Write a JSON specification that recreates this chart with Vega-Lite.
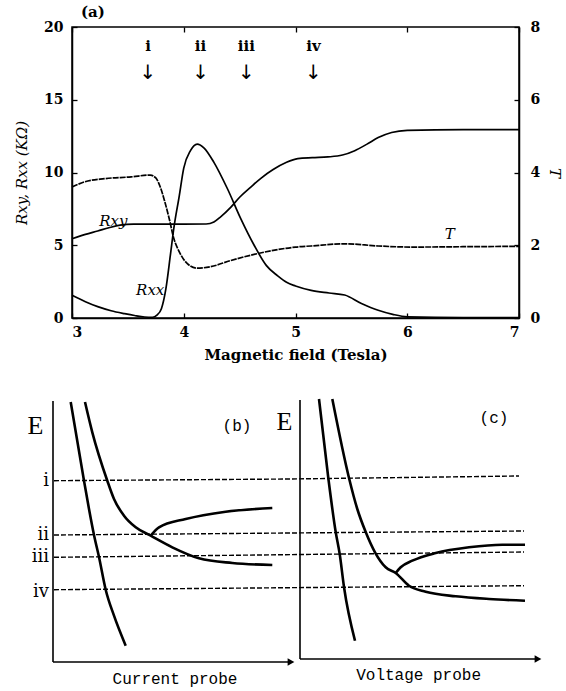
{
  "$schema": "https://vega.github.io/schema/vega-lite/v6.json",
  "background": "white",
  "padding": {"left": 13, "top": 4, "right": 3, "bottom": 5},
  "spacing": 30,
  "config": {
    "font": "DejaVu Serif",
    "view": {"stroke": "black", "strokeWidth": 1.5},
    "axis": {
      "grid": false,
      "labelFont": "DejaVu Serif",
      "labelFontWeight": "bold",
      "labelFontSize": 14,
      "labelColor": "black",
      "tickColor": "black",
      "domainColor": "black",
      "domainWidth": 1.5,
      "tickWidth": 1.3,
      "titleColor": "black",
      "titleFont": "DejaVu Serif"
    }
  },
  "datasets": {
    "resist": [
      {"B": 3.0, "R": 5.45, "series": "Rxy"},
      {"B": 3.12, "R": 5.75, "series": "Rxy"},
      {"B": 3.23, "R": 5.98, "series": "Rxy"},
      {"B": 3.33, "R": 6.2, "series": "Rxy"},
      {"B": 3.43, "R": 6.38, "series": "Rxy"},
      {"B": 3.55, "R": 6.45, "series": "Rxy"},
      {"B": 3.8, "R": 6.45, "series": "Rxy"},
      {"B": 4.0, "R": 6.45, "series": "Rxy"},
      {"B": 4.2, "R": 6.46, "series": "Rxy"},
      {"B": 4.27, "R": 6.6, "series": "Rxy"},
      {"B": 4.33, "R": 6.95, "series": "Rxy"},
      {"B": 4.42, "R": 7.6, "series": "Rxy"},
      {"B": 4.5, "R": 8.3, "series": "Rxy"},
      {"B": 4.6, "R": 9.0, "series": "Rxy"},
      {"B": 4.69, "R": 9.6, "series": "Rxy"},
      {"B": 4.8, "R": 10.2, "series": "Rxy"},
      {"B": 4.92, "R": 10.7, "series": "Rxy"},
      {"B": 5.02, "R": 10.95, "series": "Rxy"},
      {"B": 5.15, "R": 11.02, "series": "Rxy"},
      {"B": 5.29, "R": 11.07, "series": "Rxy"},
      {"B": 5.42, "R": 11.2, "series": "Rxy"},
      {"B": 5.53, "R": 11.5, "series": "Rxy"},
      {"B": 5.64, "R": 11.95, "series": "Rxy"},
      {"B": 5.74, "R": 12.4, "series": "Rxy"},
      {"B": 5.86, "R": 12.75, "series": "Rxy"},
      {"B": 6.0, "R": 12.9, "series": "Rxy"},
      {"B": 6.5, "R": 12.95, "series": "Rxy"},
      {"B": 7.0, "R": 12.95, "series": "Rxy"},
      {"B": 3.0, "R": 1.56, "series": "Rxx"},
      {"B": 3.12, "R": 1.12, "series": "Rxx"},
      {"B": 3.23, "R": 0.78, "series": "Rxx"},
      {"B": 3.35, "R": 0.5, "series": "Rxx"},
      {"B": 3.47, "R": 0.3, "series": "Rxx"},
      {"B": 3.56, "R": 0.17, "series": "Rxx"},
      {"B": 3.65, "R": 0.07, "series": "Rxx"},
      {"B": 3.72, "R": 0.05, "series": "Rxx"},
      {"B": 3.76, "R": 0.2, "series": "Rxx"},
      {"B": 3.8, "R": 0.64, "series": "Rxx"},
      {"B": 3.84, "R": 2.0, "series": "Rxx"},
      {"B": 3.88, "R": 4.3, "series": "Rxx"},
      {"B": 3.91, "R": 6.1, "series": "Rxx"},
      {"B": 3.96, "R": 8.4, "series": "Rxx"},
      {"B": 4.0, "R": 10.3, "series": "Rxx"},
      {"B": 4.06, "R": 11.5, "series": "Rxx"},
      {"B": 4.12, "R": 11.95, "series": "Rxx"},
      {"B": 4.18, "R": 11.7, "series": "Rxx"},
      {"B": 4.27, "R": 10.7, "series": "Rxx"},
      {"B": 4.39, "R": 8.9, "series": "Rxx"},
      {"B": 4.51, "R": 6.83, "series": "Rxx"},
      {"B": 4.63, "R": 5.0, "series": "Rxx"},
      {"B": 4.74, "R": 3.6, "series": "Rxx"},
      {"B": 4.84, "R": 2.9, "series": "Rxx"},
      {"B": 4.92, "R": 2.45, "series": "Rxx"},
      {"B": 5.0, "R": 2.2, "series": "Rxx"},
      {"B": 5.14, "R": 1.9, "series": "Rxx"},
      {"B": 5.3, "R": 1.72, "series": "Rxx"},
      {"B": 5.44, "R": 1.58, "series": "Rxx"},
      {"B": 5.59, "R": 1.0, "series": "Rxx"},
      {"B": 5.74, "R": 0.53, "series": "Rxx"},
      {"B": 5.87, "R": 0.25, "series": "Rxx"},
      {"B": 6.0, "R": 0.08, "series": "Rxx"},
      {"B": 6.5, "R": 0.03, "series": "Rxx"},
      {"B": 7.0, "R": 0.03, "series": "Rxx"}
    ],
    "trans": [
      {"B": 3.0, "T": 3.6},
      {"B": 3.11, "T": 3.74},
      {"B": 3.29, "T": 3.83},
      {"B": 3.53, "T": 3.88},
      {"B": 3.7, "T": 3.93},
      {"B": 3.75, "T": 3.85},
      {"B": 3.79, "T": 3.6},
      {"B": 3.83, "T": 3.2},
      {"B": 3.87, "T": 2.73},
      {"B": 3.91, "T": 2.2},
      {"B": 3.96, "T": 1.82},
      {"B": 4.03, "T": 1.5},
      {"B": 4.12, "T": 1.37},
      {"B": 4.24, "T": 1.41},
      {"B": 4.42, "T": 1.58},
      {"B": 4.66, "T": 1.77},
      {"B": 4.84, "T": 1.88},
      {"B": 5.0, "T": 1.95},
      {"B": 5.14, "T": 1.98},
      {"B": 5.44, "T": 2.04},
      {"B": 5.74, "T": 1.98},
      {"B": 6.04, "T": 1.95},
      {"B": 6.5, "T": 1.96},
      {"B": 7.0, "T": 1.97}
    ],
    "curveLabels": [
      {"B": 3.37, "R": 6.7, "label": "Rxy"},
      {"B": 3.7, "R": 1.94, "label": "Rxx"},
      {"B": 6.38, "R": 5.79, "label": "T"}
    ],
    "markers": [
      {"B": 3.68, "label": "i"},
      {"B": 4.15, "label": "ii"},
      {"B": 4.56, "label": "iii"},
      {"B": 5.16, "label": "iv"}
    ],
    "axesRules": [
      {"x": 0, "y": 0, "x2": 0, "y2": 261},
      {"x": 0, "y": 0, "x2": 238, "y2": 0},
      {"x": 247, "y": 3, "x2": 247, "y2": 262},
      {"x": 247, "y": 3, "x2": 485, "y2": 3}
    ],
    "arrowHeads": [
      {"x": 238, "y": 0},
      {"x": 485, "y": 3}
    ],
    "levels": [
      {"x": 1, "y": 181.3, "level": "i"},
      {"x": 236, "y": 183, "level": "i"},
      {"x": 466, "y": 186, "level": "i"},
      {"x": 1, "y": 127, "level": "ii"},
      {"x": 471, "y": 131, "level": "ii"},
      {"x": 1, "y": 104.7, "level": "iii"},
      {"x": 471, "y": 110, "level": "iii"},
      {"x": 1, "y": 72.3, "level": "iv"},
      {"x": 471, "y": 76.3, "level": "iv"}
    ],
    "bands": [
      {"x": 17.7, "y": 260, "curve": "b1"},
      {"x": 31, "y": 181.3, "curve": "b1"},
      {"x": 36, "y": 153, "curve": "b1"},
      {"x": 41, "y": 127, "curve": "b1"},
      {"x": 46, "y": 105, "curve": "b1"},
      {"x": 52.7, "y": 72.3, "curve": "b1"},
      {"x": 61, "y": 46.3, "curve": "b1"},
      {"x": 72.7, "y": 16.3, "curve": "b1"},
      {"x": 32, "y": 260, "curve": "b2"},
      {"x": 39.3, "y": 229.7, "curve": "b2"},
      {"x": 54.3, "y": 181.3, "curve": "b2"},
      {"x": 61, "y": 163, "curve": "b2"},
      {"x": 71, "y": 146.3, "curve": "b2"},
      {"x": 82.7, "y": 134.7, "curve": "b2"},
      {"x": 97.7, "y": 126.3, "curve": "b2"},
      {"x": 119.3, "y": 114.7, "curve": "b2"},
      {"x": 146, "y": 103.7, "curve": "b2"},
      {"x": 179.3, "y": 99, "curve": "b2"},
      {"x": 219.3, "y": 97, "curve": "b2"},
      {"x": 97.7, "y": 126.3, "curve": "b3"},
      {"x": 106, "y": 134.7, "curve": "b3"},
      {"x": 132.7, "y": 143, "curve": "b3"},
      {"x": 172.7, "y": 150.3, "curve": "b3"},
      {"x": 219.3, "y": 154, "curve": "b3"},
      {"x": 266, "y": 263, "curve": "c1"},
      {"x": 275.3, "y": 184, "curve": "c1"},
      {"x": 282.7, "y": 130, "curve": "c1"},
      {"x": 286.7, "y": 108, "curve": "c1"},
      {"x": 291, "y": 75, "curve": "c1"},
      {"x": 302, "y": 21.3, "curve": "c1"},
      {"x": 279.3, "y": 263, "curve": "c2"},
      {"x": 296, "y": 184, "curve": "c2"},
      {"x": 304.3, "y": 153, "curve": "c2"},
      {"x": 312.7, "y": 130, "curve": "c2"},
      {"x": 322, "y": 109.7, "curve": "c2"},
      {"x": 332.7, "y": 94.7, "curve": "c2"},
      {"x": 342.7, "y": 89, "curve": "c2"},
      {"x": 356, "y": 76.3, "curve": "c2"},
      {"x": 372.7, "y": 70.3, "curve": "c2"},
      {"x": 402.7, "y": 65.7, "curve": "c2"},
      {"x": 436, "y": 63, "curve": "c2"},
      {"x": 472, "y": 61.3, "curve": "c2"},
      {"x": 342.7, "y": 89, "curve": "c3"},
      {"x": 347.7, "y": 94.7, "curve": "c3"},
      {"x": 359.3, "y": 101.3, "curve": "c3"},
      {"x": 382.7, "y": 109, "curve": "c3"},
      {"x": 416, "y": 114.7, "curve": "c3"},
      {"x": 449.3, "y": 117.3, "curve": "c3"},
      {"x": 472, "y": 117.3, "curve": "c3"}
    ],
    "bigLabels": [
      {"x": -17.5, "y": 236, "label": "E"},
      {"x": 231.5, "y": 240, "label": "E"}
    ],
    "panelTags": [
      {"x": 184, "y": 236, "label": "(b)"},
      {"x": 441, "y": 244, "label": "(c)"},
      {"x": 122, "y": -17, "label": "Current probe"},
      {"x": 365.6, "y": -13, "label": "Voltage probe"}
    ],
    "levelLabels": [
      {"x": -4, "y": 181, "label": "i"},
      {"x": -4, "y": 127, "label": "ii"},
      {"x": -4, "y": 105, "label": "iii"},
      {"x": -4, "y": 70, "label": "iv"}
    ]
  },
  "vconcat": [
    {
      "width": 447,
      "height": 291,
      "title": {"text": "(a)", "anchor": "start", "frame": "group", "dx": 9, "offset": 0, "font": "DejaVu Serif", "fontSize": 15, "fontWeight": "bold", "color": "black"},
      "resolve": {"scale": {"y": "independent"}, "axis": {"x": "independent"}},
      "layer": [
        {
          "data": {"name": "resist"},
          "mark": {"type": "line", "color": "black", "strokeWidth": 1.7, "interpolate": "monotone"},
          "encoding": {
            "x": {"field": "B", "type": "quantitative", "scale": {"domain": [3, 7], "nice": false, "zero": false},
                  "axis": {"orient": "bottom", "values": [3, 4, 5, 6, 7], "tickSize": -5, "labelPadding": 12, "title": "Magnetic field (Tesla)", "titleFontSize": 15, "titleFontWeight": "bold", "titlePadding": 8}},
            "y": {"field": "R", "type": "quantitative", "scale": {"domain": [0, 20], "nice": false},
                  "axis": {"orient": "left", "values": [0, 5, 10, 15, 20], "tickSize": -5, "labelPadding": 14, "title": "Rxy, Rxx (KΩ)", "titleFontSize": 15, "titleFontWeight": "normal", "titleFontStyle": "italic", "titlePadding": 14}},
            "detail": {"field": "series", "type": "nominal"}
          }
        },
        {
          "data": {"name": "trans"},
          "mark": {"type": "line", "color": "black", "strokeWidth": 1.7, "strokeDash": [6, 1], "interpolate": "monotone"},
          "encoding": {
            "x": {"field": "B", "type": "quantitative", "scale": {"domain": [3, 7], "nice": false, "zero": false},
                  "axis": {"orient": "top", "values": [3, 4, 5, 6, 7], "tickSize": -5, "labels": false, "domain": false, "title": null}},
            "y": {"field": "T", "type": "quantitative", "scale": {"domain": [0, 8], "nice": false},
                  "axis": {"orient": "right", "values": [0, 2, 4, 6, 8], "tickSize": -5, "labelPadding": 16, "title": "T", "titleFontSize": 15, "titleFontWeight": "normal", "titleFontStyle": "italic", "titlePadding": 7}}
          }
        },
        {
          "data": {"name": "curveLabels"},
          "mark": {"type": "text", "font": "DejaVu Serif", "fontStyle": "italic", "fontSize": 15, "color": "black"},
          "encoding": {
            "x": {"field": "B", "type": "quantitative", "scale": {"domain": [3, 7], "nice": false, "zero": false}, "axis": null},
            "y": {"field": "R", "type": "quantitative", "scale": {"domain": [0, 20], "nice": false}, "axis": null},
            "text": {"field": "label"}
          }
        },
        {
          "data": {"name": "markers"},
          "mark": {"type": "text", "font": "DejaVu Serif", "fontWeight": "bold", "fontSize": 15, "color": "black", "dy": -127},
          "encoding": {
            "x": {"field": "B", "type": "quantitative", "scale": {"domain": [3, 7], "nice": false, "zero": false}, "axis": null},
            "y": {"datum": 10, "type": "quantitative", "scale": {"domain": [0, 20], "nice": false}, "axis": null},
            "text": {"field": "label"}
          }
        },
        {
          "data": {"name": "markers"},
          "mark": {"type": "text", "font": "DejaVu Sans", "fontSize": 20, "color": "black", "dy": -100},
          "encoding": {
            "x": {"field": "B", "type": "quantitative", "scale": {"domain": [3, 7], "nice": false, "zero": false}, "axis": null},
            "y": {"datum": 10, "type": "quantitative", "scale": {"domain": [0, 20], "nice": false}, "axis": null},
            "text": {"value": "↓"}
          }
        }
      ]
    },
    {
      "width": 470,
      "height": 263,
      "view": {"stroke": null},
      "layer": [
        {
          "data": {"name": "axesRules"},
          "mark": {"type": "rule", "color": "black", "strokeWidth": 1.6},
          "encoding": {
            "x": {"field": "x", "type": "quantitative", "scale": {"domain": [19, 489], "nice": false, "zero": false}, "axis": null},
            "y": {"field": "y", "type": "quantitative", "scale": {"domain": [0, 263], "nice": false, "zero": false}, "axis": null},
            "x2": {"field": "x2"},
            "y2": {"field": "y2"}
          }
        },
        {
          "data": {"name": "arrowHeads"},
          "mark": {"type": "point", "shape": "triangle-right", "filled": true, "color": "black", "size": 60, "opacity": 1},
          "encoding": {
            "x": {"field": "x", "type": "quantitative"},
            "y": {"field": "y", "type": "quantitative"}
          }
        },
        {
          "data": {"name": "levels"},
          "mark": {"type": "line", "color": "black", "strokeWidth": 1.4, "strokeDash": [5, 2]},
          "encoding": {
            "x": {"field": "x", "type": "quantitative"},
            "y": {"field": "y", "type": "quantitative"},
            "detail": {"field": "level", "type": "nominal"}
          }
        },
        {
          "data": {"name": "bands"},
          "mark": {"type": "line", "color": "black", "strokeWidth": 2.6, "interpolate": "monotone"},
          "encoding": {
            "x": {"field": "x", "type": "quantitative"},
            "y": {"field": "y", "type": "quantitative"},
            "detail": {"field": "curve", "type": "nominal"}
          }
        },
        {
          "data": {"name": "bigLabels"},
          "mark": {"type": "text", "font": "Liberation Serif", "fontSize": 26, "color": "black"},
          "encoding": {
            "x": {"field": "x", "type": "quantitative"},
            "y": {"field": "y", "type": "quantitative"},
            "text": {"field": "label"}
          }
        },
        {
          "data": {"name": "panelTags"},
          "mark": {"type": "text", "font": "Liberation Mono", "fontSize": 16, "color": "black"},
          "encoding": {
            "x": {"field": "x", "type": "quantitative"},
            "y": {"field": "y", "type": "quantitative"},
            "text": {"field": "label"}
          }
        },
        {
          "data": {"name": "levelLabels"},
          "mark": {"type": "text", "font": "DejaVu Serif", "fontSize": 18, "color": "black", "align": "right"},
          "encoding": {
            "x": {"field": "x", "type": "quantitative"},
            "y": {"field": "y", "type": "quantitative"},
            "text": {"field": "label"}
          }
        }
      ]
    }
  ]
}
